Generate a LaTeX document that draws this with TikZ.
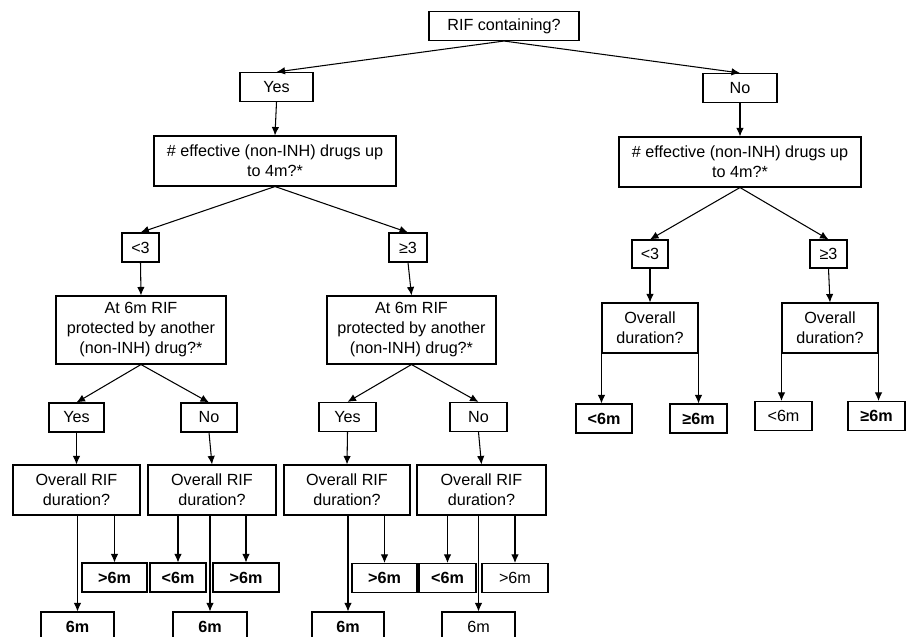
\documentclass[tikz,border=0pt]{standalone}
\usepackage{fontspec}
\setmainfont{Liberation Sans}
\usetikzlibrary{arrows.meta}
\tikzset{
  box/.style={draw, line width=0.6pt, align=center, inner sep=0pt,
    font=\fontsize{9.2}{11.4}\selectfont},
  lbl/.style={box, minimum height=0.58cm},
  ask/.style={box, minimum height=1cm},
  bres/.style={lbl, font=\fontsize{9.2}{11.4}\selectfont\bfseries},
  arr/.style={->, line width=0.6pt}
}
\begin{document}
\begin{tikzpicture}[>={Latex[length=1.7mm,width=1.5mm]}]
\useasboundingbox (0,0) rectangle (18.24,-12.74);

%Wurzel
\node[lbl, minimum width=3cm] (root) at (10.08,-0.52) {RIF containing?};
\node[lbl, minimum width=1.46cm] (yesT) at (5.53,-1.74) {Yes};
\node[lbl, minimum width=1.48cm] (noT) at (14.8,-1.76) {No};
\node[ask, minimum width=4.84cm] (effL) at (5.5,-3.22) {\# effective (non-INH) drugs up\\to 4m?*};
\node[ask, minimum width=4.84cm] (effR) at (14.8,-3.24) {\# effective (non-INH) drugs up\\to 4m?*};

%links
\node[lbl, minimum width=0.74cm] (lt3L) at (2.81,-4.95) {<3};
\node[lbl, minimum width=0.76cm] (ge3L) at (8.16,-4.95) {≥3};
\node[box, minimum width=3.4cm, minimum height=1.36cm] (at6L) at (2.82,-6.6) {At 6m RIF\\protected by another\\(non-INH) drug?*};
\node[box, minimum width=3.38cm, minimum height=1.36cm] (at6R) at (8.23,-6.6) {At 6m RIF\\protected by another\\(non-INH) drug?*};
\node[lbl, minimum width=1.1cm] (yesA) at (1.53,-8.35) {Yes};
\node[lbl, minimum width=1.12cm] (noA) at (4.18,-8.35) {No};
\node[lbl, minimum width=1.14cm] (yesB) at (6.95,-8.34) {Yes};
\node[lbl, minimum width=1.14cm] (noB) at (9.57,-8.34) {No};
\node[ask, minimum width=2.54cm] (durA1) at (1.53,-9.8) {Overall RIF\\duration?};
\node[ask, minimum width=2.56cm] (durA2) at (4.24,-9.8) {Overall RIF\\duration?};
\node[ask, minimum width=2.52cm] (durB1) at (6.94,-9.8) {Overall RIF\\duration?};
\node[ask, minimum width=2.58cm] (durB2) at (9.63,-9.8) {Overall RIF\\duration?};

%Ergebnisse links
\node[bres, minimum width=1.3cm] (a1gt) at (2.29,-11.55) {>6m};
\node[bres, minimum width=1.46cm] (a1eq) at (1.55,-12.53) {6m};
\node[bres, minimum width=1.12cm] (a2lt) at (3.56,-11.55) {<6m};
\node[bres, minimum width=1.32cm] (a2gt) at (4.92,-11.55) {>6m};
\node[bres, minimum width=1.48cm] (a2eq) at (4.2,-12.53) {6m};
\node[bres, minimum width=1.3cm] (b1gt) at (7.69,-11.56) {>6m};
\node[bres, minimum width=1.44cm] (b1eq) at (6.96,-12.53) {6m};
\node[bres, minimum width=1.14cm] (b2lt) at (8.95,-11.56) {<6m};
\node[lbl, minimum width=1.32cm] (b2gt) at (10.3,-11.56) {>6m};
\node[lbl, minimum width=1.46cm] (b2eq) at (9.57,-12.53) {6m};

%rechts
\node[lbl, minimum width=0.72cm, minimum height=0.56cm] (lt3R) at (13.0,-5.08) {<3};
\node[lbl, minimum width=0.74cm, minimum height=0.56cm] (ge3R) at (16.57,-5.08) {≥3};
\node[ask, minimum width=1.92cm] (durR1) at (13.0,-6.56) {Overall\\duration?};
\node[ask, minimum width=1.92cm] (durR2) at (16.6,-6.56) {Overall\\duration?};
\node[bres, minimum width=1.12cm] (r1lt) at (12.08,-8.37) {<6m};
\node[bres, minimum width=1.14cm] (r1ge) at (13.97,-8.37) {≥6m};
\node[lbl, minimum width=1.14cm] (r2lt) at (15.67,-8.32) {<6m};
\node[bres, minimum width=1.14cm] (r2ge) at (17.53,-8.32) {≥6m};

%Pfeile
\foreach \a/\b in {root/yesT, root/noT, yesT/effL, noT/effR, effL/lt3L, effL/ge3L,
  effR/lt3R, effR/ge3R, lt3L/at6L, ge3L/at6R, at6L/yesA, at6L/noA, at6R/yesB,
  at6R/noB, yesA/durA1, noA/durA2, yesB/durB1, noB/durB2, lt3R/durR1, ge3R/durR2}{
\draw[arr] (\a.south) -- (\b.north);
}
\foreach \a/\b in {durA1/a1gt, durA1/a1eq, durA2/a2lt, durA2/a2gt, durA2/a2eq,
  durB1/b1gt, durB1/b1eq, durB2/b2lt, durB2/b2gt, durB2/b2eq}{
\draw[arr] (\b.north |- \a.south) -- (\b.north);
}
\draw[arr] (durR1.south west) -- (durR1.south west |- r1lt.north);
\draw[arr] (durR1.south east) -- (durR1.south east |- r1ge.north);
\draw[arr] (durR2.south west) -- (durR2.south west |- r2lt.north);
\draw[arr] (durR2.south east) -- (durR2.south east |- r2ge.north);

\end{tikzpicture}
\end{document}
